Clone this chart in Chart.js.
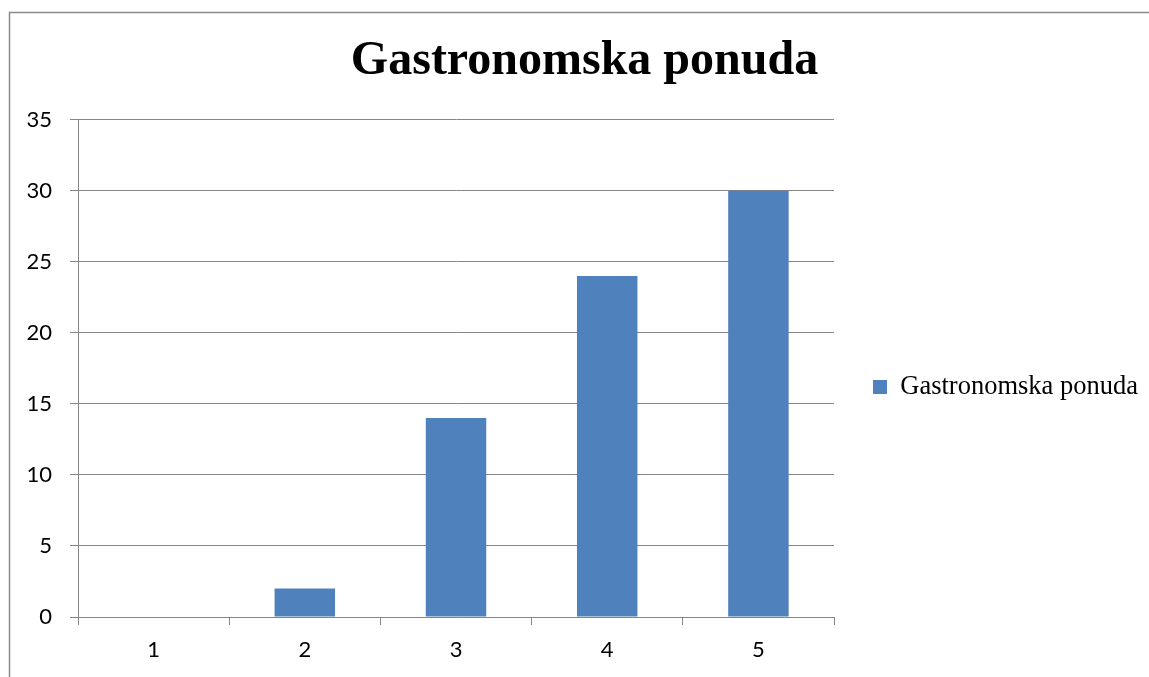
<!DOCTYPE html>
<html>
<head>
<meta charset="utf-8">
<script src="https://cdn.jsdelivr.net/npm/chart.js@4/dist/chart.umd.min.js"></script>
<style>
html,body{margin:0;padding:0;background:#fff;}
#wrap{width:1149px;height:677px;position:relative;}
</style>
</head>
<body>
<div id="wrap"><canvas id="c" width="1149" height="677"></canvas></div>
<script>
const chartTitle = "Gastronomska ponuda";
const categories = ["1", "2", "3", "4", "5"];
const seriesName = "Gastronomska ponuda";
const seriesValues = [0, 2, 14, 24, 30];
const yTicks = [0, 5, 10, 15, 20, 25, 30, 35];

const gridColor = "#868686";

const framePlugin = {
  id: "frame",
  beforeDraw(chart) {
    const ctx = chart.ctx;
    ctx.save();
    ctx.fillStyle = "#fff";
    ctx.fillRect(0, 0, chart.width, chart.height);
    ctx.strokeStyle = "#8a8a8a";
    ctx.lineWidth = 1.5;
    ctx.beginPath();
    ctx.moveTo(9.5, chart.height);
    ctx.lineTo(9.5, 12.5);
    ctx.lineTo(chart.width, 12.5);
    ctx.stroke();
    ctx.restore();
  }
};

new Chart(document.getElementById("c"), {
  type: "bar",
  data: {
    labels: categories,
    datasets: [{
      label: seriesName,
      data: seriesValues,
      backgroundColor: "#4F81BD",
      borderWidth: 0,
      categoryPercentage: 1.0,
      barPercentage: 0.4
    }]
  },
  options: {
    responsive: false,
    animation: false,
    devicePixelRatio: 1,
    layout: { padding: { left: 21, right: 1, top: 0, bottom: 0 } },
    plugins: {
      title: {
        display: true,
        text: chartTitle,
        color: "#000",
        font: { family: "'Liberation Serif', 'Times New Roman', serif", size: 48, weight: "bold", lineHeight: 1.2 },
        padding: { top: 33, bottom: 29 }
      },
      legend: {
        display: true,
        position: "right",
        maxWidth: 315,
        title: {
          display: true,
          text: " ",
          font: { size: 10, lineHeight: 1 },
          padding: { top: 43, bottom: 44 }
        },
        labels: {
          boxWidth: 14,
          boxHeight: 14,
          padding: 39,
          color: "#000",
          font: { family: "'Liberation Serif', 'Times New Roman', serif", size: 26.5 }
        }
      },
      tooltip: { enabled: false }
    },
    scales: {
      x: {
        grid: {
          display: true,
          offset: true,
          drawOnChartArea: false,
          drawTicks: true,
          tickLength: 8,
          color: gridColor,
          lineWidth: 1
        },
        border: { display: true, color: gridColor, width: 1 },
        ticks: {
          color: "#000",
          padding: 12,
          font: { family: "Lato, 'Open Sans', sans-serif", size: 22 }
        },
        afterFit(scale) { scale.height = 60; }
      },
      y: {
        min: 0,
        max: 35,
        afterBuildTicks(scale) { scale.ticks = yTicks.map(v => ({ value: v })); },
        grid: {
          display: true,
          drawOnChartArea: true,
          drawTicks: true,
          tickLength: 8,
          color: gridColor,
          lineWidth: 1
        },
        border: { display: true, color: gridColor, width: 1 },
        ticks: {
          color: "#000",
          padding: 18,
          font: { family: "Lato, 'Open Sans', sans-serif", size: 22 }
        },
        afterFit(scale) { scale.width = 57; }
      }
    }
  },
  plugins: [framePlugin]
});
</script>
</body>
</html>
